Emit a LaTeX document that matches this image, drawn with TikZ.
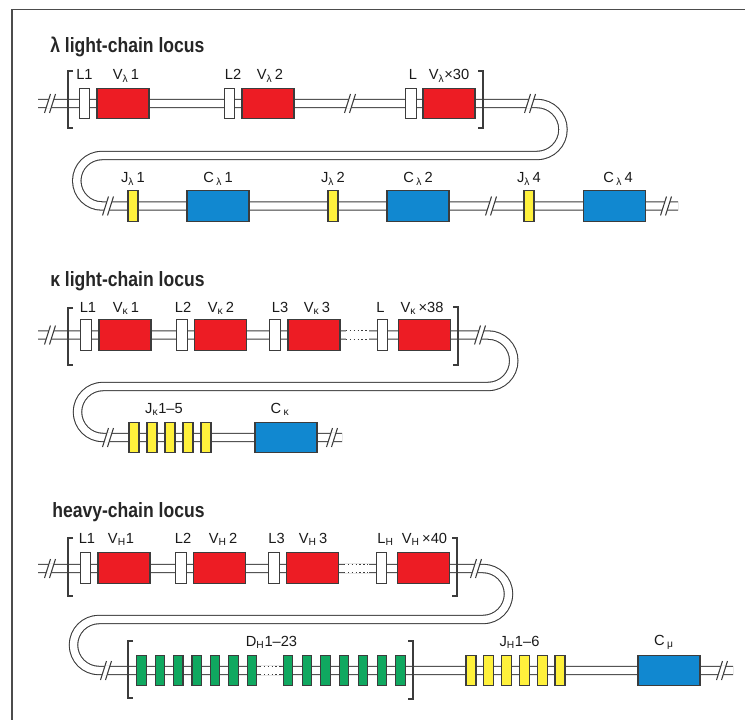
\documentclass[tikz,border=0pt]{standalone}
\usepackage{fontspec}
\newfontfamily\lblfont{Liberation Sans}
\newfontfamily\ttlfont[FakeStretch=0.85]{Liberation Sans}
\definecolor{linegray}{RGB}{60,60,60}
\definecolor{redV}{RGB}{237,28,36}
\definecolor{blueC}{RGB}{17,136,208}
\definecolor{yellowJ}{RGB}{255,241,60}
\definecolor{greenD}{RGB}{16,168,96}
\newcommand\sbs[1]{\textsubscript{#1}}
\newcommand\dnabreak[2]{%
  \fill[white] ({#1-1},{#2-5}) -- ({#1+4},{#2-5}) -- ({#1+1},{#2+5}) -- ({#1-4},{#2+5}) -- cycle;
  \draw[brkline] ({#1-5.5},{#2+9.5}) -- ({#1+0.5},{#2-9.5});
  \draw[brkline] ({#1-0.5},{#2+9.5}) -- ({#1+5.5},{#2-9.5});}
\newcommand\dnadots[3]{%
  \fill[white] (#1,{#3-4.9}) rectangle (#2,{#3+4.9});
  \draw[dotline] (#1,{#3-4.2}) -- (#2,{#3-4.2});
  \draw[dotline] (#1,{#3+4.2}) -- (#2,{#3+4.2});}
\newcommand\grpopen[3]{\draw[brak] ({#1+5},#2) -- (#1,#2) -- (#1,#3) -- ({#1+5},#3);}
\newcommand\grpclose[3]{\draw[brak] ({#1-5},#2) -- (#1,#2) -- (#1,#3) -- ({#1-5},#3);}
\tikzset{
  dna/.style={draw=linegray, line width=0.8pt, double=white, double distance=5.5pt},
  brkline/.style={draw=linegray, line width=0.8pt},
  dotline/.style={draw=linegray, line width=0.8pt, dash pattern=on 0.9pt off 2pt},
  brak/.style={draw=linegray, line width=0.9pt},
  frame/.style={draw=black!70, line width=1.1pt},
  seg/.style={draw=linegray, line width=0.85pt, inner sep=0pt, minimum height=23pt},
  vbox/.style={seg, fill=redV, minimum width=39pt},
  lbox/.style={seg, fill=white, minimum width=8pt},
  jbox/.style={seg, fill=yellowJ, minimum width=7.5pt},
  cbox/.style={seg, fill=blueC, minimum width=46.5pt},
  dbox/.style={seg, fill=greenD, minimum width=7pt},
  lbl/.style={font=\lblfont\fontsize{11}{13}\selectfont, anchor=base, inner sep=0pt, text=black!90},
  ttl/.style={font=\ttlfont\bfseries\fontsize{15.5}{18}\selectfont, anchor=base west, inner sep=0pt, text=black!85}
}
\begin{document}
\begin{tikzpicture}[x=0.75pt,y=-0.75pt]
\useasboundingbox (0,0) rectangle (745,720);
\draw[frame] (12,720) -- (12,9.5) -- (745,9.5);

% ================= lambda locus
\node[ttl] (t1) at (50,53) {λ light-chain locus};
\draw[dna] (38,103.5) -- (537,103.5) arc[start angle=-90,end angle=90,radius=26]
  -- (102,155.5) arc[start angle=270,end angle=90,radius=25.25] -- (678,206);
\dnabreak{50}{103.5}
\dnabreak{350}{103.5}
\dnabreak{530}{103.5}
\dnabreak{108}{206}
\dnabreak{491}{206}
\dnabreak{666}{206}
\grpopen{68}{71}{128}
\grpclose{483}{71}{128}
\node[lbox] (aL1) at (84.5,103.5) {};
\node[vbox] (aV1) at (123,103.5) {};
\node[lbox] (aL2) at (229.5,103.5) {};
\node[vbox] (aV2) at (268,103.5) {};
\node[lbox] (aL3) at (411,103.5) {};
\node[vbox] (aV3) at (449,103.5) {};
\node[lbl] (laL1) at (84.5,80) {L1};
\node[lbl] (laV1) at (126,80) {V\sbs{λ}\,1};
\node[lbl] (laL2) at (233,80) {L2};
\node[lbl] (laV2) at (270,80) {V\sbs{λ}\,2};
\node[lbl] (laL3) at (413,80) {L};
\node[lbl] (laV3) at (449,80) {V\sbs{λ}×30};
\node[jbox] (aJ1) at (133,206) {};
\node[cbox] (aC1) at (218,206) {};
\node[jbox] (aJ2) at (333,206) {};
\node[cbox] (aC2) at (418,206) {};
\node[jbox] (aJ4) at (529,206) {};
\node[cbox] (aC4) at (614.5,206) {};
\node[lbl] (laJ1) at (133,183) {J\sbs{λ}\,1};
\node[lbl] (laC1) at (218,183) {C\,\sbs{λ}\,1};
\node[lbl] (laJ2) at (333,183) {J\sbs{λ}\,2};
\node[lbl] (laC2) at (418,183) {C\,\sbs{λ}\,2};
\node[lbl] (laJ4) at (529,183) {J\sbs{λ}\,4};
\node[lbl] (laC4) at (618,183) {C\,\sbs{λ}\,4};

% ================= kappa locus
\node[ttl] (t2) at (50,286) {κ light-chain locus};
\draw[dna] (38,335) -- (488,335) arc[start angle=-90,end angle=90,radius=25.75]
  -- (103,386.5) arc[start angle=270,end angle=90,radius=25.5] -- (342,437.5);
\dnabreak{50}{335}
\dnabreak{480}{335}
\dnabreak{108}{437.5}
\dnabreak{332}{437.5}
\dnadots{346}{369}{335}
\grpopen{68}{308}{365}
\grpclose{458}{307}{365}
\node[lbox] (bL1) at (86,335) {};
\node[vbox] (bV1) at (125,335) {};
\node[lbox] (bL2) at (182,335) {};
\node[vbox] (bV2) at (220.5,335) {};
\node[lbox] (bL3) at (275,335) {};
\node[vbox] (bV3) at (314,335) {};
\node[lbox] (bL4) at (382.5,335) {};
\node[vbox] (bV4) at (424.5,335) {};
\node[lbl] (lbL1) at (88,312) {L1};
\node[lbl] (lbV1) at (126,312) {V\sbs{κ}\,1};
\node[lbl] (lbL2) at (183,312) {L2};
\node[lbl] (lbV2) at (221,312) {V\sbs{κ}\,2};
\node[lbl] (lbL3) at (280,312) {L3};
\node[lbl] (lbV3) at (317,312) {V\sbs{κ}\,3};
\node[lbl] (lbL4) at (380.5,312) {L};
\node[lbl] (lbV4) at (422,312) {V\sbs{κ}\,×38};
\foreach \i in {0,...,4} {\node[jbox] (bJ\i) at ({134+18*\i},437.5) {};}
\node[cbox] (bC) at (286,437.5) {};
\node[lbl] (lbJ) at (164,413) {J\sbs{κ}1–5};
\node[lbl] (lbC) at (280,413) {C\,\sbs{κ}};

% ================= heavy locus
\node[ttl] (t3) at (52,517) {heavy-chain locus};
\draw[dna] (38,568.5) -- (483,568.5) arc[start angle=-90,end angle=90,radius=25.5]
  -- (99,619.5) arc[start angle=270,end angle=90,radius=25.5] -- (733,670.5);
\dnabreak{50}{568.5}
\dnabreak{476}{568.5}
\dnabreak{106}{670.5}
\dnabreak{722}{670.5}
\dnadots{344}{369}{568.5}
\dnadots{260}{281}{670.5}
\grpopen{68}{538}{596}
\grpclose{457}{538}{596}
\grpopen{128}{641}{698}
\grpclose{413}{641}{699}
\node[lbox] (cL1) at (85.5,568) {};
\node[vbox] (cV1) at (124,568) {};
\node[lbox] (cL2) at (181,568) {};
\node[vbox] (cV2) at (219.5,568) {};
\node[lbox] (cL3) at (274,568) {};
\node[vbox] (cV3) at (312.5,568) {};
\node[lbox] (cL4) at (381.5,568) {};
\node[vbox] (cV4) at (423.5,568) {};
\node[lbl] (lcL1) at (87,543) {L1};
\node[lbl] (lcV1) at (121,543) {V\sbs{H}1};
\node[lbl] (lcL2) at (183,543) {L2};
\node[lbl] (lcV2) at (223,543) {V\sbs{H}\,2};
\node[lbl] (lcL3) at (276.5,543) {L3};
\node[lbl] (lcV3) at (313,543) {V\sbs{H}\,3};
\node[lbl] (lcL4) at (385.5,543) {L\sbs{H}};
\node[lbl] (lcV4) at (424.5,543) {V\sbs{H}\,×40};
\foreach \i in {0,...,6} {\node[dbox] (cDa\i) at ({141.5+18.4*\i},670.5) {};}
\foreach \i in {0,...,6} {\node[dbox] (cDb\i) at ({288+18.75*\i},670.5) {};}
\foreach \i in {0,...,5} {\node[jbox] (cJ\i) at ({471+17.8*\i},670.5) {};}
\node[cbox] (cC) at (669,670.5) {};
\node[lbl] (lcD) at (271.5,646) {D\sbs{H}1–23};
\node[lbl] (lcJ) at (519.5,646) {J\sbs{H}1–6};
\node[lbl] (lcC) at (664,645) {C\,\sbs{μ}};
\end{tikzpicture}
\end{document}
